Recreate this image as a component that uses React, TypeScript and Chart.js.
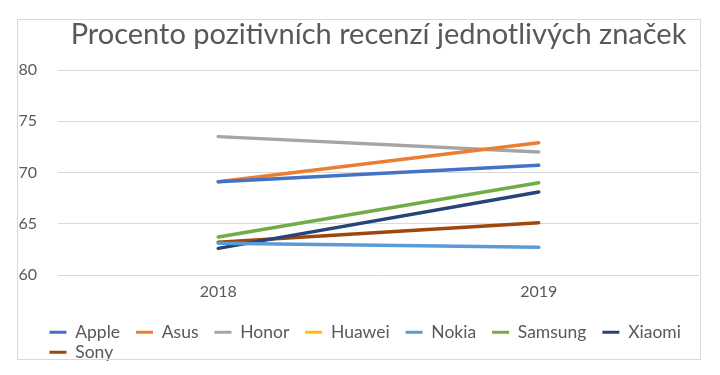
import React, { useEffect, useRef } from "react";
import { Chart, registerables } from "chart.js";

Chart.register(...registerables);

const titleText = "Procento pozitivních recenzí jednotlivých značek";
const categories = ["2018", "2019"];
const seriesNames = ["Apple", "Asus", "Honor", "Huawei", "Nokia", "Samsung", "Xiaomi", "Sony"];
const seriesColors = ["#4472C4", "#ED7D31", "#A5A5A5", "#FFC000", "#5B9BD5", "#70AD47", "#264478", "#9E480E"];

const apple = [69.1, 70.7];
const asus = [69.1, 72.9];
const honor = [73.5, 72.0];
const huawei: (number | null)[] = [null, null];
const nokia = [63.1, 62.7];
const samsung = [63.7, 69.0];
const xiaomi = [62.6, 68.1];
const sony = [63.2, 65.1];

const seriesValues = [apple, asus, honor, huawei, nokia, samsung, xiaomi, sony];

const yMin = 60;
const yMax = 80;
const yStep = 5;

const FONT = "Lato, 'Open Sans', sans-serif";
const TEXT = "#595959";

const legendShift = {
  id: "legendShift",
  afterLayout(chart: any) {
    if (chart.legend) {
      chart.legend.left += 29;
      chart.legend.right += 29;
    }
  },
};

export default function App() {
  const ref = useRef<HTMLCanvasElement | null>(null);

  useEffect(() => {
    if (!ref.current) return;
    const chart = new Chart(ref.current, {
      type: "line",
      data: {
        labels: categories,
        datasets: seriesNames.map((name, i) => ({
          label: name,
          data: seriesValues[i],
          borderColor: seriesColors[i],
          backgroundColor: seriesColors[i],
          borderWidth: 3.5,
          borderCapStyle: "round" as const,
          borderJoinStyle: "round" as const,
          pointRadius: 0,
          pointHoverRadius: 0,
          tension: 0,
          fill: false,
        })),
      },
      options: {
        responsive: false,
        animation: false,
        devicePixelRatio: 1,
        layout: { padding: { left: 0, right: 0, top: 0, bottom: 4 } },
        font: { family: FONT },
        plugins: {
          title: {
            display: true,
            text: titleText,
            fullSize: false,
            color: TEXT,
            font: { family: FONT, size: 29, weight: "normal", lineHeight: 1 },
            padding: { top: 0, bottom: 21 },
          },
          legend: {
            position: "bottom",
            align: "start",
            labels: {
              boxWidth: 17,
              boxHeight: 3,
              padding: 2.5,
              color: TEXT,
              font: { family: FONT, size: 17.5 },
              generateLabels: (c: Chart) => {
                const items = Chart.defaults.plugins.legend.labels.generateLabels(c);
                return items.map((it: any) => ({
                  ...it,
                  text: it.text + "   ",
                  lineWidth: 0,
                  strokeStyle: "rgba(0,0,0,0)",
                  fillStyle: seriesColors[it.datasetIndex],
                }));
              },
            },
          },
          tooltip: { enabled: false },
        },
        scales: {
          x: {
            offset: true,
            grid: { display: false, drawTicks: false },
            border: { display: false },
            ticks: { color: TEXT, font: { family: FONT, size: 16 }, padding: 7 },
            afterFit: (s: any) => {
              s.height = 46;
            },
          },
          y: {
            min: yMin,
            max: yMax,
            ticks: { stepSize: yStep, color: TEXT, font: { family: FONT, size: 16 }, padding: 21 },
            grid: { color: "#d9d9d9", lineWidth: 1, drawTicks: false },
            border: { display: false },
            afterFit: (s: any) => {
              s.width = 40;
            },
          },
        },
      },
      plugins: [legendShift],
    });
    return () => chart.destroy();
  }, []);

  return (
    <div>
      <div style={{ position: "absolute", left: 18, top: 20, width: 681, height: 355 }}>
        <canvas ref={ref} width={681} height={355} style={{ width: 681, height: 355, display: "block" }} />
      </div>
      <div
        style={{
          position: "absolute",
          left: 17,
          top: 19,
          width: 684,
          height: 341,
          border: "1px solid #d9d9d9",
          boxSizing: "border-box",
          pointerEvents: "none",
        }}
      />
    </div>
  );
}
